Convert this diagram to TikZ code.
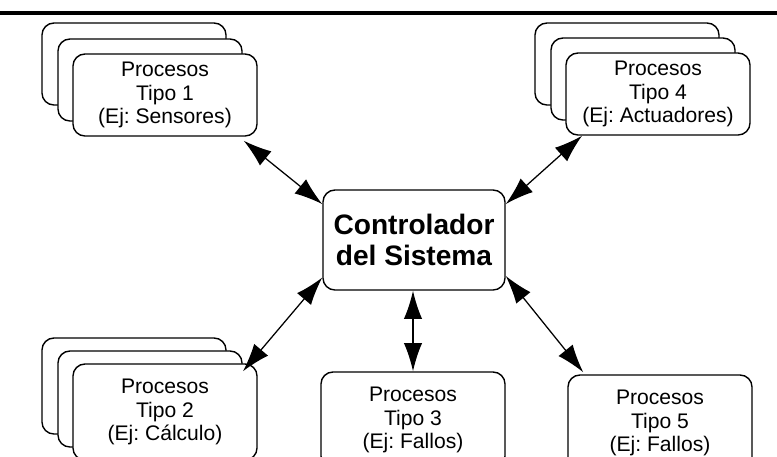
\documentclass[tikz,border=0pt]{standalone}
\usepackage{fontspec}
\setmainfont{Liberation Sans}
\usetikzlibrary{arrows.meta,positioning}
\frenchspacing

\tikzset{
  proc/.style={draw, line width=1pt, rounded corners=0.3cm, fill=white,
    minimum width=4.6cm, minimum height=2.05cm, align=center,
    font=\fontsize{15}{17}\selectfont},
  proclow/.style={proc, minimum height=2.4cm},
  ctrl/.style={draw, line width=1pt, rounded corners=0.3cm, fill=white,
    minimum width=4.55cm, minimum height=2.5cm, align=center,
    font=\fontsize{20}{22}\selectfont\bfseries},
  link/.style={{Latex[length=20pt,width=13pt]}-{Latex[length=20pt,width=13pt]}, line width=0.9pt}
}

\begin{document}
\begin{tikzpicture}[x=0.025cm, y=-0.025cm]
  \clip (0,0) rectangle (777,456);
  \fill[white] (0,0) rectangle (777,456);
  \draw[line width=3.5pt] (0,13) -- (777,13);

  % stacked process groups
  \node[proc] (t1back) at (134,64) {};
  \node[proc] (t1mid) at (150,80) {};
  \node[proc] (t1) at (165,95) {Procesos\\Tipo 1\\(Ej: Sensores)};

  \node[proc] (t4back) at (627,64) {};
  \node[proc] (t4mid) at (643,79) {};
  \node[proc] (t4) at (658,94) {Procesos\\Tipo 4\\(Ej: Actuadores)};

  \node[proclow] (t2back) at (134,386) {};
  \node[proclow] (t2mid) at (150,399) {};
  \node[proclow] (t2) at (165,412) {Procesos\\Tipo 2\\(Ej: Cálculo)};

  % single boxes
  \node[proclow] (t3) at (413,420) {Procesos\\Tipo 3\\(Ej: Fallos)};
  \node[proclow] (t5) at (660,423) {Procesos\\Tipo 5\\(Ej: Fallos)};

  \node[ctrl] (ctrl) at (414,240) {Controlador\\del Sistema};

  \draw[link] ([xshift=-0.35cm,yshift=-0.1cm]t1.south east) -- ([yshift=-0.37cm]ctrl.north west);
  \draw[link] ([xshift=0.42cm]t4.south west) -- ([yshift=-0.37cm]ctrl.north east);
  \draw[link] ([xshift=-0.37cm,yshift=-0.2cm]t2.north east) -- ([yshift=0.33cm]ctrl.south west);
  \draw[link] ([xshift=0.4cm,yshift=0.05cm]t5.north west) -- ([yshift=0.37cm]ctrl.south east);
  \draw[link] (ctrl.south -| t3.north) -- (t3.north);
\end{tikzpicture}
\end{document}
